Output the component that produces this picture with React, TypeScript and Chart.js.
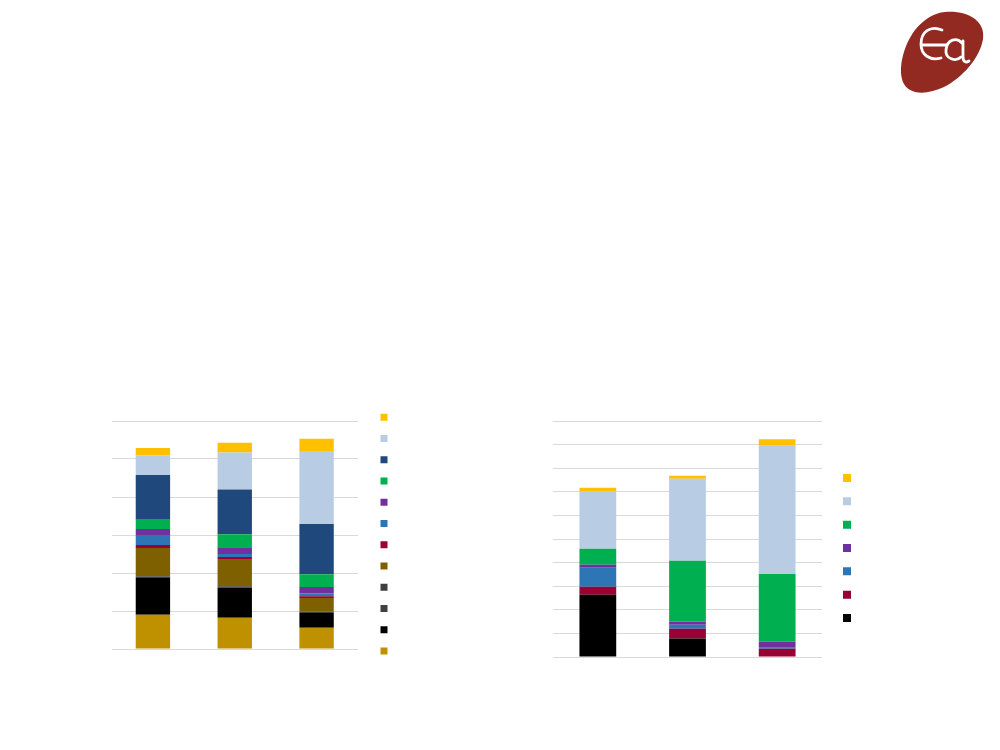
import React, { useEffect, useRef } from 'react';
import { Chart, registerables } from 'chart.js';

Chart.register(...registerables);

// ---------- Colours ----------
const GOLD = '#BF9000';
const BLACK = '#000000';
const DARK_GRAY = '#404040';
const DARK_GRAY_2 = '#3F3F3F';
const BROWN = '#7F6000';
const CRIMSON = '#990033';
const BLUE = '#2E75B6';
const PURPLE = '#7030A0';
const GREEN = '#00B050';
const NAVY = '#1F497D';
const LIGHT_BLUE = '#B8CCE4';
const YELLOW = '#FFC000';
const GRID = '#D9D9D9';

// ---------- Chart 1 data (left) ----------
const categories1 = ['1', '2', '3'];
const gold1 = [9.0, 8.2, 5.6];
const black1 = [9.7, 7.9, 3.9];
const grayA1 = [0.4, 0.4, 0.3];
const grayB1 = [0.1, 0.1, 0.1];
const brown1 = [7.4, 7.1, 3.5];
const crimson1 = [0.8, 0.5, 0.5];
const blue1 = [2.6, 0.8, 0.8];
const purple1 = [1.6, 1.8, 1.6];
const green1 = [2.6, 3.4, 3.4];
const navy1 = [11.6, 11.8, 13.2];
const lightBlue1 = [5.2, 9.7, 19.2];
const yellow1 = [1.9, 2.6, 3.2];
const yMax1 = 60;
const yStep1 = 10;

// ---------- Chart 2 data (right) ----------
const categories2 = ['1', '2', '3'];
const black2 = [26.4, 7.8, 0];
const crimson2 = [3.4, 4.2, 3.5];
const blue2 = [8.0, 1.7, 0.4];
const purple2 = [1.3, 1.3, 2.7];
const green2 = [6.8, 25.8, 28.6];
const lightBlue2 = [24.4, 34.7, 54.3];
const yellow2 = [1.4, 1.3, 2.8];
const yMax2 = 100;
const yStep2 = 10;

type Series = { data: number[]; color: string };

const series1: Series[] = [
  { data: gold1, color: GOLD },
  { data: black1, color: BLACK },
  { data: grayA1, color: DARK_GRAY },
  { data: grayB1, color: DARK_GRAY_2 },
  { data: brown1, color: BROWN },
  { data: crimson1, color: CRIMSON },
  { data: blue1, color: BLUE },
  { data: purple1, color: PURPLE },
  { data: green1, color: GREEN },
  { data: navy1, color: NAVY },
  { data: lightBlue1, color: LIGHT_BLUE },
  { data: yellow1, color: YELLOW },
];

const series2: Series[] = [
  { data: black2, color: BLACK },
  { data: crimson2, color: CRIMSON },
  { data: blue2, color: BLUE },
  { data: purple2, color: PURPLE },
  { data: green2, color: GREEN },
  { data: lightBlue2, color: LIGHT_BLUE },
  { data: yellow2, color: YELLOW },
];

type Props = {
  left: number;
  top: number;
  width: number;
  height: number;
  labels: string[];
  series: Series[];
  max: number;
  step: number;
  barPct: number;
  yAxisW: number;
  topH: number;
  bottomH: number;
  box: number;
  pad: number;
};

function StackedChart(p: Props) {
  const ref = useRef<HTMLCanvasElement | null>(null);
  useEffect(() => {
    if (!ref.current) return;
    const chart = new Chart(ref.current, {
      type: 'bar',
      data: {
        labels: p.labels,
        datasets: p.series.map((s) => ({
          label: '',
          data: s.data,
          backgroundColor: s.color,
          borderWidth: 0,
          barPercentage: p.barPct,
          categoryPercentage: 1,
          xAxisID: 'x',
          yAxisID: 'y',
        })),
      },
      options: {
        responsive: true,
        maintainAspectRatio: false,
        animation: false,
        layout: { padding: 0 },
        plugins: {
          legend: {
            position: 'right',
            reverse: true,
            labels: {
              boxWidth: p.box,
              boxHeight: p.box,
              padding: p.pad,
              font: { size: p.box },
              color: '#000',
            },
          },
          tooltip: { enabled: false },
          title: { display: false },
        },
        scales: {
          x: {
            stacked: true,
            position: 'bottom',
            grid: { display: false },
            border: { display: false },
            ticks: { display: false },
            afterFit: (s: any) => {
              s.height = p.bottomH;
            },
          },
          xTop: {
            type: 'category',
            position: 'top',
            grid: { display: false },
            border: { display: false },
            ticks: { display: false },
            afterFit: (s: any) => {
              s.height = p.topH;
            },
          },
          y: {
            stacked: true,
            position: 'right',
            min: 0,
            max: p.max,
            ticks: { display: false, stepSize: p.step },
            grid: { color: GRID, lineWidth: 1, drawTicks: false },
            border: { display: false },
            afterFit: (s: any) => {
              s.width = p.yAxisW;
            },
          },
        },
      } as any,
    });
    return () => chart.destroy();
  }, []);
  return (
    <div
      style={{
        position: 'absolute',
        left: p.left,
        top: p.top,
        width: p.width,
        height: p.height,
      }}
    >
      <canvas ref={ref} />
    </div>
  );
}

function Logo() {
  return (
    <svg
      style={{ position: 'absolute', left: 880, top: 0 }}
      width={120}
      height={110}
      viewBox="880 0 120 110"
    >
      <path
        d="M 945 12 C 966 10, 986 20, 983 39 C 980 58, 962 78, 944 87 C 929 94, 911 96, 904 84 C 897 71, 903 46, 915 30 C 924 19, 934 13, 945 12 Z"
        fill="#922A22"
      />
      <g fill="none" stroke="#ffffff" strokeWidth={2.8} strokeLinecap="round">
        <path d="M 942 30 C 930 25, 921 32, 921 44 C 921 55, 930 61, 941 58" />
        <path d="M 922 45 L 946 45" />
        <path d="M 962 43 C 957 37, 947 39, 946 50 C 945 59, 956 62, 961 57" />
        <path d="M 963 41 L 963 57 C 963 62, 966 63, 969 61" />
      </g>
    </svg>
  );
}

export default function App() {
  return (
    <div
      style={{
        position: 'absolute',
        left: 0,
        top: 0,
        width: 1000,
        height: 750,
        background: '#ffffff',
        overflow: 'hidden',
      }}
    >
      <Logo />
      <StackedChart
        left={112}
        top={398}
        width={289}
        height={272}
        labels={categories1}
        series={series1}
        max={yMax1}
        step={yStep1}
        barPct={0.42}
        yAxisW={8.75}
        topH={23}
        bottomH={21}
        box={7}
        pad={14.25}
      />
      <StackedChart
        left={553}
        top={417}
        width={312}
        height={262}
        labels={categories2}
        series={series2}
        max={yMax2}
        step={yStep2}
        barPct={0.41}
        yAxisW={5.67}
        topH={4}
        bottomH={22}
        box={8}
        pad={15.33}
      />
    </div>
  );
}
